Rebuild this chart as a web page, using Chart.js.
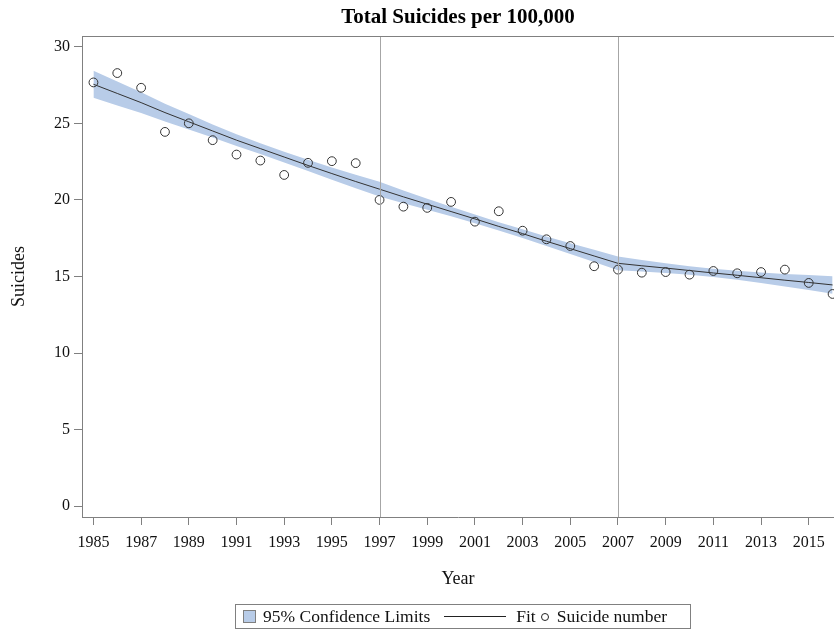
<!DOCTYPE html>
<html>
<head>
<meta charset="utf-8">
<script src="https://cdn.jsdelivr.net/npm/chart.js@4.4.1/dist/chart.umd.min.js"></script>
<style>
  body { margin: 0; background: #fff; }
  #wrap { position: relative; width: 834px; height: 629px; overflow: hidden; }
  #legend {
    position: absolute; left: 235px; top: 604px; width: 454px; height: 23px;
    border: 1px solid #808080; box-sizing: content-box;
    font-family: "Liberation Serif", "Times New Roman", serif; font-size: 17.5px; color: #111;
    display: flex; align-items: center; white-space: nowrap;
  }
  #legend .sq { width: 11px; height: 11px; background: #b8cce8; border: 1px solid #808080; margin: 0 7px 0 7px; }
  #legend .ln { width: 62px; height: 0; border-top: 1px solid #222; margin: 0 10px 0 14px; }
  #legend .ci { width: 6px; height: 6px; border: 1px solid #222; border-radius: 50%; margin: 0 8px 0 5px; }
</style>
</head>
<body>
<div id="wrap">
  <canvas id="suicideChart" width="834" height="629"></canvas>
  <div id="legend">
    <span class="sq"></span><span>95% Confidence Limits</span>
    <span class="ln"></span><span>Fit</span>
    <span class="ci"></span><span>Suicide number</span>
  </div>
</div>
<script>
const years = [1985, 1986, 1987, 1988, 1989, 1990, 1991, 1992, 1993, 1994, 1995,
  1996, 1997, 1998, 1999, 2000, 2001, 2002, 2003, 2004, 2005, 2006, 2007, 2008,
  2009, 2010, 2011, 2012, 2013, 2014, 2015, 2016];

// observed rate per 100,000
const suicides = [27.67, 28.28, 27.32, 24.44, 25.0, 23.9, 22.96, 22.57, 21.63, 22.42, 22.53,
  22.4, 20.0, 19.56, 19.48, 19.87, 18.58, 19.26, 17.99, 17.43, 16.99, 15.67, 15.45, 15.25,
  15.29, 15.12, 15.36, 15.21, 15.29, 15.45, 14.58, 13.86];

// joinpoint fit and 95% limits
const fit = [27.55, 26.95, 26.35, 25.7, 25.1, 24.5, 23.9, 23.35, 22.8, 22.25, 21.72,
  21.2, 20.7, 20.2, 19.72, 19.24, 18.76, 18.27, 17.8, 17.3, 16.82, 16.34, 15.86, 15.7,
  15.55, 15.39, 15.23, 15.08, 14.92, 14.76, 14.61, 14.45];
const upper = [28.43, 27.73, 27.03, 26.28, 25.6, 24.93, 24.28, 23.7, 23.15, 22.62, 22.12,
  21.64, 21.18, 20.62, 20.08, 19.55, 19.04, 18.54, 18.08, 17.61, 17.17, 16.74, 16.31, 16.08,
  15.87, 15.67, 15.5, 15.37, 15.26, 15.17, 15.1, 15.02];
const lower = [26.67, 26.17, 25.67, 25.12, 24.6, 24.07, 23.52, 23.0, 22.45, 21.88, 21.32,
  20.76, 20.22, 19.78, 19.36, 18.93, 18.48, 18.0, 17.52, 16.99, 16.47, 15.94, 15.41, 15.32,
  15.23, 15.11, 14.96, 14.79, 14.58, 14.35, 14.12, 13.88];

const xTicks = [1985, 1987, 1989, 1991, 1993, 1995, 1997, 1999, 2001, 2003, 2005, 2007,
  2009, 2011, 2013, 2015];
const yTicks = [0, 5, 10, 15, 20, 25, 30];
const refYears = [1997, 2007];

const pts = arr => years.map((y, i) => ({ x: y, y: arr[i] }));
const serif = '"Liberation Serif", "Times New Roman", serif';
const band = '#b8cce8';
const axisGray = '#808080';

// vertical reference lines and the top frame edge
const refLines = {
  id: 'refLines',
  afterDatasetsDraw(chart) {
    const { ctx, chartArea, scales } = chart;
    ctx.save();
    ctx.strokeStyle = '#a6a6a6';
    ctx.lineWidth = 1;
    refYears.forEach(yr => {
      const x = Math.round(scales.x.getPixelForValue(yr)) + 0.5;
      ctx.beginPath();
      ctx.moveTo(x, chartArea.top);
      ctx.lineTo(x, chartArea.bottom);
      ctx.stroke();
    });
    ctx.strokeStyle = axisGray;
    ctx.beginPath();
    ctx.moveTo(chartArea.left, chartArea.top + 0.5);
    ctx.lineTo(chartArea.right, chartArea.top + 0.5);
    ctx.stroke();
    ctx.restore();
  }
};

new Chart(document.getElementById('suicideChart'), {
  type: 'scatter',
  data: {
    datasets: [
      {
        label: 'Suicide number',
        data: pts(suicides),
        showLine: false,
        pointRadius: 4.4,
        pointBorderWidth: 1,
        pointBorderColor: '#333',
        pointBackgroundColor: 'rgba(0,0,0,0)',
        order: 1
      },
      {
        label: 'Fit',
        data: pts(fit),
        showLine: true,
        borderColor: '#333',
        borderWidth: 1,
        pointRadius: 0,
        order: 2
      },
      {
        label: 'upper',
        data: pts(upper),
        showLine: true,
        borderWidth: 0,
        borderColor: band,
        backgroundColor: band,
        pointRadius: 0,
        fill: '+1',
        order: 3
      },
      {
        label: 'lower',
        data: pts(lower),
        showLine: true,
        borderWidth: 0,
        borderColor: band,
        pointRadius: 0,
        fill: false,
        order: 4
      }
    ]
  },
  options: {
    responsive: false,
    animation: false,
    layout: { padding: 0, autoPadding: false },
    plugins: {
      legend: { display: false },
      tooltip: { enabled: false },
      title: {
        display: true,
        text: 'Total Suicides per 100,000',
        fullSize: false,
        color: '#000',
        font: { family: serif, size: 21, weight: 'bold' },
        padding: { top: 5, bottom: 5.8 }
      }
    },
    scales: {
      x: {
        type: 'linear',
        min: 1984.52,
        max: 2016.06,
        afterFit(scale) {
          scale.height = 112;
          scale.paddingLeft = 0;
          scale.paddingRight = 0;
        },
        afterBuildTicks(scale) { scale.ticks = xTicks.map(v => ({ value: v })); },
        grid: { drawOnChartArea: false, color: axisGray, tickLength: 8 },
        border: { color: axisGray },
        ticks: {
          color: '#111', padding: 8, maxRotation: 0, autoSkip: false,
          font: { family: serif, size: 16 },
          callback: v => String(v)
        },
        title: {
          display: true, text: 'Year', color: '#111',
          font: { family: serif, size: 18 },
          padding: { top: 0, bottom: 39 }
        }
      },
      y: {
        min: -0.7,
        max: 30.7,
        afterFit(scale) { scale.width = 82; },
        afterBuildTicks(scale) { scale.ticks = yTicks.map(v => ({ value: v })); },
        grid: { drawOnChartArea: false, color: axisGray, tickLength: 8 },
        border: { color: axisGray },
        ticks: {
          color: '#111', padding: 4,
          font: { family: serif, size: 16 }
        },
        title: {
          display: true, text: 'Suicides', color: '#111',
          font: { family: serif, size: 18 },
          padding: { top: 8, bottom: 0 }
        }
      }
    }
  },
  plugins: [refLines]
});
</script>
</body>
</html>
